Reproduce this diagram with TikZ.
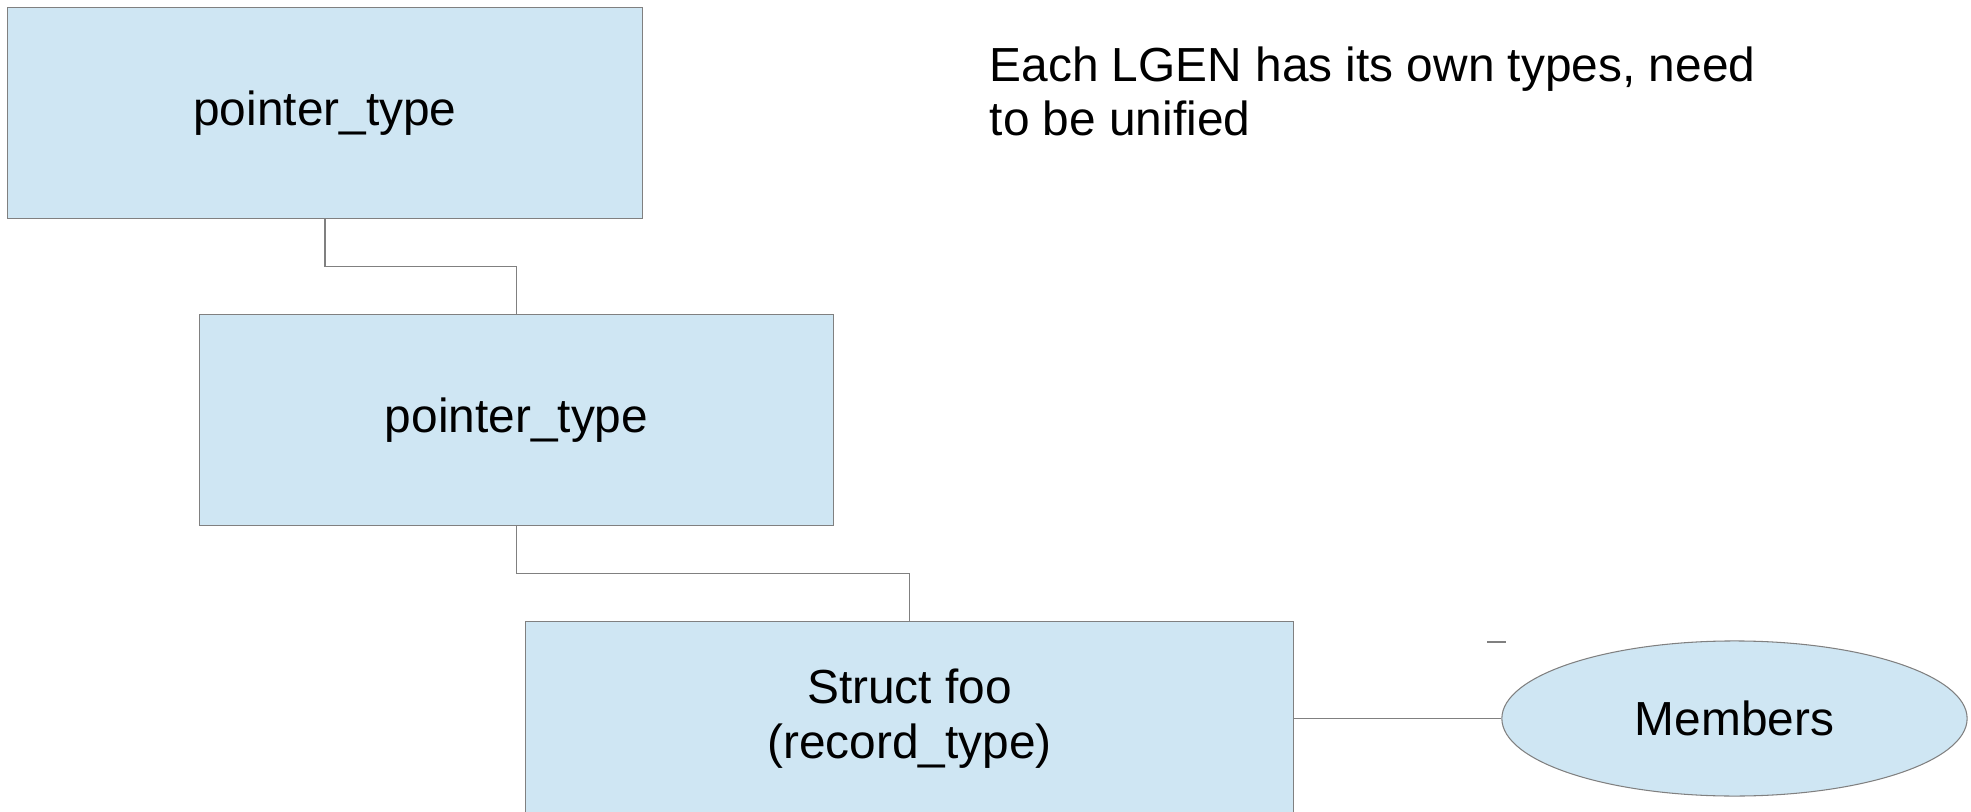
\documentclass[tikz,border=0pt]{standalone}
\usepackage{fontspec}
\setmainfont{Liberation Sans}
\usetikzlibrary{shapes.geometric,calc}
\definecolor{boxblue}{RGB}{207,230,243}
\definecolor{linegray}{RGB}{128,128,128}
\begin{document}
\begin{tikzpicture}[x=0.01cm,y=-0.01cm,every text node part/.style={align=center},
	font=\fontsize{13.6}{15.6}\selectfont,
	typebox/.style={draw=linegray, fill=boxblue, line width=0.3pt, minimum width=6.34cm, minimum height=2.11cm, inner sep=0pt},
	link/.style={draw=linegray, line width=0.3pt}]
	\useasboundingbox (0,0) rectangle (1971,812);

	\node[typebox] (ptrA) at (325,113) {pointer\_type};
	\node[typebox] (ptrB) at (516.6,419.8) {pointer\_type};
	\node[typebox, minimum width=7.68cm, minimum height=1.94cm] (record) at (909.5,719) {Struct foo\\(record\_type)};
	\node[ellipse, draw=linegray, fill=boxblue, line width=0.3pt, minimum width=4.65cm, minimum height=1.55cm, inner sep=0pt] (members) at (1734.5,718.5) {Members};

	\node[anchor=base west, inner sep=0pt, every text node part/.style={align=left}] (note) at (989,136) {Each LGEN has its own types, need\\to be unified};

	%\draw[link] (ptrA.south) -- (ptrB.north);
	\coordinate (bendA) at ($(ptrA.south)!.5!(ptrB.north)$);
	\coordinate (bendB) at ($(ptrB.south)!.5!(record.north)$);
	\draw[link] (ptrA.south) |- (bendA) -| (ptrB.north);
	\draw[link] (ptrB.south) |- (bendB) -| (record.north);
	\draw[link] (members.west) -- (members.west -| record.east);

	\draw[linegray, line width=0.6pt] (1487,642) -- (1506,642);

\end{tikzpicture}
\end{document}
